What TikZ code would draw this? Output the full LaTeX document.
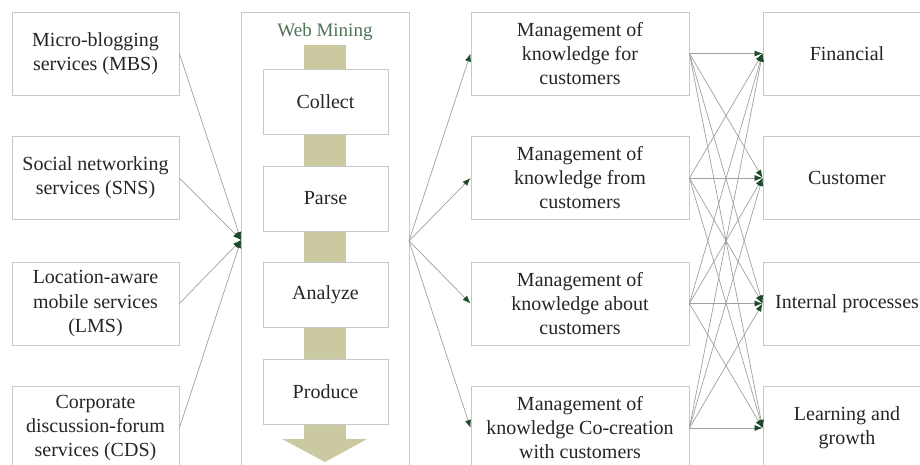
\documentclass[tikz,border=0pt]{standalone}
\usepackage{fontspec}
\setmainfont{Liberation Serif}
\usetikzlibrary{arrows.meta}
\definecolor{boxgray}{HTML}{C6CAC6}
\definecolor{linegray}{HTML}{9AA69A}
\definecolor{tipgreen}{HTML}{1E4A2C}
\definecolor{khaki}{HTML}{CBC99F}
\definecolor{webgreen}{HTML}{4E7256}
\definecolor{txt}{HTML}{262626}
\begin{document}
\begin{tikzpicture}[x=1pt,y=-1pt,
  box/.style={draw=boxgray, line width=0.9pt, fill=white, align=center, text=txt,
    font=\fontsize{20}{24}\selectfont, inner sep=0pt},
  sidebox/.style={box, minimum width=167, minimum height=83},
  mgmtbox/.style={box, minimum width=218, minimum height=83},
  stepbox/.style={box, minimum width=125, minimum height=65},
  conn/.style={draw=linegray, line width=0.7pt, -{Latex[length=8pt,width=6pt,color=tipgreen]}}]
\useasboundingbox (0,0) rectangle (920,464);
\clip (0,0) rectangle (920,464);
\fill[white] (0,0) rectangle (920,464);

% left column
\node[sidebox] (l1) at (95.5,53.5) {Micro-blogging\\services (MBS)};
\node[sidebox] (l2) at (95.5,178) {Social networking\\services (SNS)};
\node[sidebox] (l3) at (95.5,303.5) {Location-aware\\mobile services\\(LMS)};
\node[sidebox] (l4) at (95.5,428) {Corporate\\discussion-forum\\services (CDS)};

% middle column
\node[draw=boxgray, line width=0.9pt, minimum width=168, minimum height=480, anchor=north west, inner sep=0pt] (mid) at (241,12) {};
\node[text=webgreen, font=\fontsize{19}{22}\selectfont] (wm) at (325,32) {Web Mining};
\fill[khaki] (304,45) rectangle (346,440);
\fill[khaki] (282,439) -- (367,439) -- (325,462) -- cycle;
\node[stepbox] (s1) at (325.5,101.5) {Collect};
\node[stepbox] (s2) at (325.5,198.5) {Parse};
\node[stepbox] (s3) at (325.5,294.5) {Analyze};
\node[stepbox] (s4) at (325.5,391.5) {Produce};
\coordinate (cin) at (241,240);
\coordinate (cout) at (409,241);

% management column
\node[mgmtbox] (m1) at (580,53.5) {Management of\\knowledge for\\customers};
\node[mgmtbox] (m2) at (580,178) {Management of\\knowledge from\\customers};
\node[mgmtbox] (m3) at (580,303.5) {Management of\\knowledge about\\customers};
\node[mgmtbox] (m4) at (580,428) {Management of\\knowledge Co-creation\\with customers};

% right column
\node[sidebox, minimum width=168] (r1) at (847,53.5) {Financial};
\node[sidebox, minimum width=168] (r2) at (847,178) {Customer};
\node[sidebox, minimum width=168] (r3) at (847,303.5) {Internal processes};
\node[sidebox, minimum width=168] (r4) at (847,428) {Learning and\\growth};

% connectors
\foreach \i in {1,...,4} {
  \draw[conn] (l\i.east) -- (cin);
  \draw[conn] (cout) -- (m\i.west);
}
\foreach \i in {1,...,4} {
  \foreach \j in {1,...,4} {
    \draw[conn] (m\i.east) -- (r\j.west);
  }
}
\end{tikzpicture}
\end{document}
